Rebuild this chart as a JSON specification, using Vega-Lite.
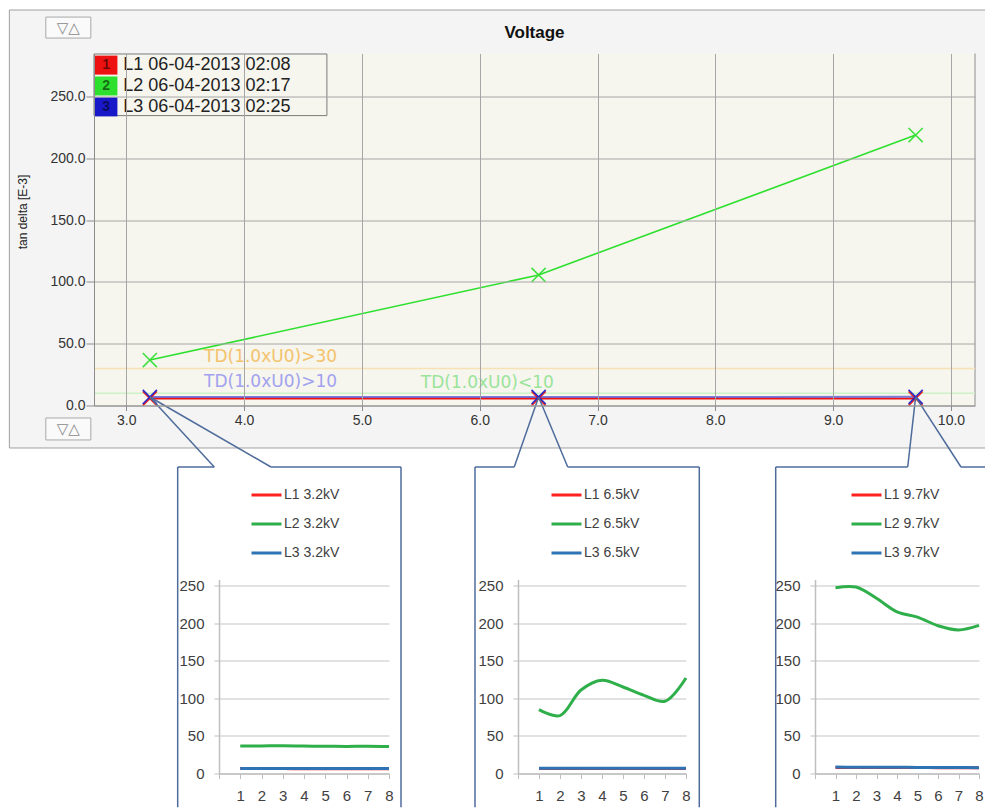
{
  "$schema": "https://vega.github.io/schema/vega-lite/v6.json",
  "padding": {"left": 8, "top": 9.5, "right": 0, "bottom": 0},
  "background": "white",
  "config": {"view": {"stroke": null}, "font": "Liberation Sans"},
  "datasets": {
    "sweep": [
      {"series": "L1", "kv": 3.2, "tan_delta": 5.6},
      {"series": "L1", "kv": 6.5, "tan_delta": 5.6},
      {"series": "L1", "kv": 9.7, "tan_delta": 5.6},
      {"series": "L2", "kv": 3.2, "tan_delta": 36.8},
      {"series": "L2", "kv": 6.5, "tan_delta": 105.7},
      {"series": "L2", "kv": 9.7, "tan_delta": 219.0},
      {"series": "L3", "kv": 3.2, "tan_delta": 6.9},
      {"series": "L3", "kv": 6.5, "tan_delta": 6.9},
      {"series": "L3", "kv": 9.7, "tan_delta": 7.0}
    ],
    "legend": [
      {"series": "L1", "key": "1", "entry": "L1 06-04-2013 02:08"},
      {"series": "L2", "key": "2", "entry": "L2 06-04-2013 02:17"},
      {"series": "L3", "key": "3", "entry": "L3 06-04-2013 02:25"}
    ],
    "thresholds": [
      {"limit": "TD(1.0xU0)>30", "level": 30},
      {"limit": "TD(1.0xU0)>10", "level": 10},
      {"limit": "TD(1.0xU0)<10", "level": 10}
    ],
    "insets": [
      {"kv": "3.2", "trace": "L1 3.2kV", "sample": 1, "value": 6.5},
      {"kv": "3.2", "trace": "L1 3.2kV", "sample": 2, "value": 6.5},
      {"kv": "3.2", "trace": "L1 3.2kV", "sample": 3, "value": 6.5},
      {"kv": "3.2", "trace": "L1 3.2kV", "sample": 4, "value": 6.4},
      {"kv": "3.2", "trace": "L1 3.2kV", "sample": 5, "value": 6.4},
      {"kv": "3.2", "trace": "L1 3.2kV", "sample": 6, "value": 6.4},
      {"kv": "3.2", "trace": "L1 3.2kV", "sample": 7, "value": 6.4},
      {"kv": "3.2", "trace": "L1 3.2kV", "sample": 8, "value": 6.4},
      {"kv": "3.2", "trace": "L2 3.2kV", "sample": 1, "value": 36.6},
      {"kv": "3.2", "trace": "L2 3.2kV", "sample": 2, "value": 36.7},
      {"kv": "3.2", "trace": "L2 3.2kV", "sample": 3, "value": 36.9},
      {"kv": "3.2", "trace": "L2 3.2kV", "sample": 4, "value": 36.5},
      {"kv": "3.2", "trace": "L2 3.2kV", "sample": 5, "value": 36.2},
      {"kv": "3.2", "trace": "L2 3.2kV", "sample": 6, "value": 36.0},
      {"kv": "3.2", "trace": "L2 3.2kV", "sample": 7, "value": 36.2},
      {"kv": "3.2", "trace": "L2 3.2kV", "sample": 8, "value": 35.8},
      {"kv": "3.2", "trace": "L3 3.2kV", "sample": 1, "value": 6.8},
      {"kv": "3.2", "trace": "L3 3.2kV", "sample": 2, "value": 6.8},
      {"kv": "3.2", "trace": "L3 3.2kV", "sample": 3, "value": 6.8},
      {"kv": "3.2", "trace": "L3 3.2kV", "sample": 4, "value": 6.7},
      {"kv": "3.2", "trace": "L3 3.2kV", "sample": 5, "value": 6.7},
      {"kv": "3.2", "trace": "L3 3.2kV", "sample": 6, "value": 6.7},
      {"kv": "3.2", "trace": "L3 3.2kV", "sample": 7, "value": 6.7},
      {"kv": "3.2", "trace": "L3 3.2kV", "sample": 8, "value": 6.7},
      {"kv": "6.5", "trace": "L1 6.5kV", "sample": 1, "value": 6.8},
      {"kv": "6.5", "trace": "L1 6.5kV", "sample": 2, "value": 6.8},
      {"kv": "6.5", "trace": "L1 6.5kV", "sample": 3, "value": 6.8},
      {"kv": "6.5", "trace": "L1 6.5kV", "sample": 4, "value": 6.8},
      {"kv": "6.5", "trace": "L1 6.5kV", "sample": 5, "value": 6.8},
      {"kv": "6.5", "trace": "L1 6.5kV", "sample": 6, "value": 6.8},
      {"kv": "6.5", "trace": "L1 6.5kV", "sample": 7, "value": 6.8},
      {"kv": "6.5", "trace": "L1 6.5kV", "sample": 8, "value": 6.8},
      {"kv": "6.5", "trace": "L2 6.5kV", "sample": 1, "value": 85},
      {"kv": "6.5", "trace": "L2 6.5kV", "sample": 2, "value": 77},
      {"kv": "6.5", "trace": "L2 6.5kV", "sample": 3, "value": 111},
      {"kv": "6.5", "trace": "L2 6.5kV", "sample": 4, "value": 124},
      {"kv": "6.5", "trace": "L2 6.5kV", "sample": 5, "value": 115},
      {"kv": "6.5", "trace": "L2 6.5kV", "sample": 6, "value": 104},
      {"kv": "6.5", "trace": "L2 6.5kV", "sample": 7, "value": 96},
      {"kv": "6.5", "trace": "L2 6.5kV", "sample": 8, "value": 127},
      {"kv": "6.5", "trace": "L3 6.5kV", "sample": 1, "value": 7.1},
      {"kv": "6.5", "trace": "L3 6.5kV", "sample": 2, "value": 7.0},
      {"kv": "6.5", "trace": "L3 6.5kV", "sample": 3, "value": 7.0},
      {"kv": "6.5", "trace": "L3 6.5kV", "sample": 4, "value": 7.0},
      {"kv": "6.5", "trace": "L3 6.5kV", "sample": 5, "value": 7.0},
      {"kv": "6.5", "trace": "L3 6.5kV", "sample": 6, "value": 7.0},
      {"kv": "6.5", "trace": "L3 6.5kV", "sample": 7, "value": 7.0},
      {"kv": "6.5", "trace": "L3 6.5kV", "sample": 8, "value": 7.0},
      {"kv": "9.7", "trace": "L1 9.7kV", "sample": 1, "value": 8.0},
      {"kv": "9.7", "trace": "L1 9.7kV", "sample": 2, "value": 8.0},
      {"kv": "9.7", "trace": "L1 9.7kV", "sample": 3, "value": 8.0},
      {"kv": "9.7", "trace": "L1 9.7kV", "sample": 4, "value": 7.9},
      {"kv": "9.7", "trace": "L1 9.7kV", "sample": 5, "value": 7.9},
      {"kv": "9.7", "trace": "L1 9.7kV", "sample": 6, "value": 7.8},
      {"kv": "9.7", "trace": "L1 9.7kV", "sample": 7, "value": 7.8},
      {"kv": "9.7", "trace": "L1 9.7kV", "sample": 8, "value": 7.7},
      {"kv": "9.7", "trace": "L2 9.7kV", "sample": 1, "value": 247},
      {"kv": "9.7", "trace": "L2 9.7kV", "sample": 2, "value": 248},
      {"kv": "9.7", "trace": "L2 9.7kV", "sample": 3, "value": 233},
      {"kv": "9.7", "trace": "L2 9.7kV", "sample": 4, "value": 215},
      {"kv": "9.7", "trace": "L2 9.7kV", "sample": 5, "value": 208},
      {"kv": "9.7", "trace": "L2 9.7kV", "sample": 6, "value": 196.5},
      {"kv": "9.7", "trace": "L2 9.7kV", "sample": 7, "value": 191},
      {"kv": "9.7", "trace": "L2 9.7kV", "sample": 8, "value": 197},
      {"kv": "9.7", "trace": "L3 9.7kV", "sample": 1, "value": 8.5},
      {"kv": "9.7", "trace": "L3 9.7kV", "sample": 2, "value": 8.4},
      {"kv": "9.7", "trace": "L3 9.7kV", "sample": 3, "value": 8.3},
      {"kv": "9.7", "trace": "L3 9.7kV", "sample": 4, "value": 8.2},
      {"kv": "9.7", "trace": "L3 9.7kV", "sample": 5, "value": 8.1},
      {"kv": "9.7", "trace": "L3 9.7kV", "sample": 6, "value": 8.0},
      {"kv": "9.7", "trace": "L3 9.7kV", "sample": 7, "value": 7.9},
      {"kv": "9.7", "trace": "L3 9.7kV", "sample": 8, "value": 7.8}
    ]
  },
  "bounds": "flush",
  "spacing": 174,
  "resolve": {"scale": {"color": "independent"}, "legend": {"color": "independent"}},
  "vconcat": [
    {
      "width": 881,
      "height": 352,
      "title": {"text": "Voltage", "fontSize": 17, "fontWeight": "bold", "color": "#111111", "anchor": "middle", "frame": "group", "baseline": "alphabetic", "offset": -45.4},
      "layer": [
        {"data": {"values": [{}]}, "mark": {"type": "rect", "fill": "#f4f4f4", "clip": false},
         "encoding": {"x": {"datum": 2.0075}, "x2": {"datum": 10.29}, "y": {"datum": 320.2}, "y2": {"datum": -34.4}}},
        {"data": {"values": [{}]}, "mark": {"type": "rule", "color": "#a0a0a0", "strokeWidth": 1, "clip": false},
         "encoding": {"x": {"datum": 2.0075}, "x2": {"datum": 10.29}, "y": {"datum": 320.2}}},
        {"data": {"values": [{}]}, "mark": {"type": "rule", "color": "#a0a0a0", "strokeWidth": 1, "clip": false},
         "encoding": {"x": {"datum": 2.0075}, "y": {"datum": 320.2}, "y2": {"datum": -34.4}}},
        {"data": {"values": [{}]}, "mark": {"type": "rule", "color": "#a0a0a0", "strokeWidth": 1, "clip": false},
         "encoding": {"x": {"datum": 2.0075}, "x2": {"datum": 10.29}, "y": {"datum": -34.4}}},
        {"data": {"values": [{}]}, "mark": {"type": "rect", "fill": "#f6f5ee"},
         "encoding": {"x": {"datum": 2.726}, "x2": {"datum": 10.204}, "y": {"datum": 0}, "y2": {"datum": 285}}},
        {"data": {"values": [{}]}, "mark": {"type": "rule", "color": "#8c8c8c", "strokeWidth": 1},
         "encoding": {"x": {"datum": 10.204}}},
        {"data": {"name": "thresholds"}, "transform": [{"filter": "datum.limit !== 'TD(1.0xU0)>10'"}],
         "mark": {"type": "rule", "strokeWidth": 1.5},
         "encoding": {
           "y": {"field": "level", "type": "quantitative"},
           "stroke": {"field": "limit", "type": "nominal", "scale": {"domain": ["TD(1.0xU0)>30", "TD(1.0xU0)<10"], "range": ["#f7e1b5", "#ccf2c6"]}, "legend": null}
         }},
        {"data": {"name": "thresholds"}, "transform": [{"filter": "datum.limit !== 'TD(1.0xU0)<10'"}],
         "mark": {"type": "text", "font": "DejaVu Sans", "fontSize": 17, "align": "left", "baseline": "middle", "dy": -11},
         "encoding": {
           "x": {"datum": 3.66},
           "y": {"field": "level", "type": "quantitative"},
           "text": {"field": "limit"},
           "fill": {"field": "limit", "type": "nominal", "scale": {"domain": ["TD(1.0xU0)>30", "TD(1.0xU0)>10", "TD(1.0xU0)<10"], "range": ["#f3c36c", "#a2a2ee", "#9ae49a"]}, "legend": null}
         }},
        {"data": {"name": "thresholds"}, "transform": [{"filter": "datum.limit === 'TD(1.0xU0)<10'"}],
         "mark": {"type": "text", "font": "DejaVu Sans", "fontSize": 17, "align": "left", "baseline": "middle", "dy": -10},
         "encoding": {
           "x": {"datum": 5.5},
           "y": {"field": "level", "type": "quantitative"},
           "text": {"field": "limit"},
           "fill": {"field": "limit", "type": "nominal", "scale": {"domain": ["TD(1.0xU0)>30", "TD(1.0xU0)>10", "TD(1.0xU0)<10"], "range": ["#f3c36c", "#a2a2ee", "#9ae49a"]}, "legend": null}
         }},
        {"data": {"name": "sweep"}, "transform": [{"filter": "datum.series !== 'L3'"}],
         "mark": {"type": "line", "strokeWidth": 1.6},
         "encoding": {
           "x": {"field": "kv", "type": "quantitative",
                 "scale": {"domain": [2.726, 10.204], "nice": false, "zero": false},
                 "axis": {"values": [3, 4, 5, 6, 7, 8, 9, 10], "tickCount": 8, "format": ".1f", "title": null, "grid": true, "gridColor": "#a6a6a6", "domainColor": "#8c8c8c", "tickColor": "#8c8c8c", "tickSize": 5, "labelFont": "Liberation Sans", "labelFontSize": 14, "labelColor": "#333333", "labelPadding": 3, "zindex": 1}},
           "y": {"field": "tan_delta", "type": "quantitative",
                 "scale": {"domain": [0, 285], "nice": false},
                 "axis": {"values": [0, 50, 100, 150, 200, 250], "tickCount": 6, "format": ".1f", "title": "tan delta [E-3]", "titleFont": "Liberation Sans", "titleFontSize": 12, "titleFontWeight": "normal", "titleColor": "#222222", "titlePadding": 20, "titleY": 158, "grid": true, "gridColor": "#a6a6a6", "domainColor": "#8c8c8c", "tickColor": "#8c8c8c", "tickSize": 8, "labelFont": "Liberation Sans", "labelFontSize": 14, "labelColor": "#333333", "labelPadding": 1, "zindex": 1}},
           "color": {"field": "series", "type": "nominal", "scale": {"domain": ["L1", "L2", "L3"], "range": ["#ee1111", "#2ee02e", "#1818c8"]}, "legend": null}
         }},
        {"data": {"name": "sweep"}, "transform": [{"filter": "datum.series === 'L3'"}],
         "mark": {"type": "line", "strokeWidth": 2, "opacity": 0.55},
         "encoding": {
           "x": {"field": "kv", "type": "quantitative"},
           "y": {"field": "tan_delta", "type": "quantitative"},
           "color": {"field": "series", "type": "nominal"}
         }},
        {"data": {"name": "sweep"},
         "mark": {"type": "point", "shape": "M-1,-1L1,1M-1,1L1,-1", "size": 200, "strokeWidth": 1.6, "filled": false, "opacity": 0.9},
         "encoding": {
           "x": {"field": "kv", "type": "quantitative"},
           "y": {"field": "tan_delta", "type": "quantitative"},
           "color": {"field": "series", "type": "nominal"}
         }},
        {"data": {"values": [{}]}, "mark": {"type": "rect", "filled": false, "stroke": "#7a7a7a", "strokeWidth": 1},
         "encoding": {"x": {"datum": 2.726}, "x2": {"datum": 4.703}, "y": {"datum": 284.6}, "y2": {"datum": 234.7}}},
        {"data": {"name": "legend"}, "transform": [{"filter": "datum.key === '1'"}],
         "encoding": {"y": {"datum": 275.6}},
         "layer": [
           {"mark": {"type": "point", "shape": "M-1.2,-1H1.2V1H-1.2Z", "size": 361, "filled": true, "opacity": 1},
            "encoding": {"x": {"datum": 2.828}, "color": {"field": "series", "type": "nominal"}}},
           {"mark": {"type": "text", "fontSize": 14, "fontWeight": "bold", "fill": "#000000", "fillOpacity": 0.55, "align": "center", "baseline": "middle"},
            "encoding": {"x": {"datum": 2.828}, "text": {"field": "key"}}},
           {"mark": {"type": "text", "fontSize": 18, "fill": "#222222", "align": "left", "baseline": "middle"},
            "encoding": {"x": {"datum": 2.975}, "text": {"field": "entry"}}}
         ]},
        {"data": {"name": "legend"}, "transform": [{"filter": "datum.key === '2'"}],
         "encoding": {"y": {"datum": 258.7}},
         "layer": [
           {"mark": {"type": "point", "shape": "M-1.2,-1H1.2V1H-1.2Z", "size": 361, "filled": true, "opacity": 1},
            "encoding": {"x": {"datum": 2.828}, "color": {"field": "series", "type": "nominal"}}},
           {"mark": {"type": "text", "fontSize": 14, "fontWeight": "bold", "fill": "#000000", "fillOpacity": 0.55, "align": "center", "baseline": "middle"},
            "encoding": {"x": {"datum": 2.828}, "text": {"field": "key"}}},
           {"mark": {"type": "text", "fontSize": 18, "fill": "#222222", "align": "left", "baseline": "middle"},
            "encoding": {"x": {"datum": 2.975}, "text": {"field": "entry"}}}
         ]},
        {"data": {"name": "legend"}, "transform": [{"filter": "datum.key === '3'"}],
         "encoding": {"y": {"datum": 241.8}},
         "layer": [
           {"mark": {"type": "point", "shape": "M-1.2,-1H1.2V1H-1.2Z", "size": 361, "filled": true, "opacity": 1},
            "encoding": {"x": {"datum": 2.828}, "color": {"field": "series", "type": "nominal"}}},
           {"mark": {"type": "text", "fontSize": 14, "fontWeight": "bold", "fill": "#000000", "fillOpacity": 0.55, "align": "center", "baseline": "middle"},
            "encoding": {"x": {"datum": 2.828}, "text": {"field": "key"}}},
           {"mark": {"type": "text", "fontSize": 18, "fill": "#222222", "align": "left", "baseline": "middle"},
            "encoding": {"x": {"datum": 2.975}, "text": {"field": "entry"}}}
         ]},
        {"data": {"values": [{}]}, "mark": {"type": "rule", "color": "#4e6b9b", "strokeWidth": 1.5, "clip": false},
         "encoding": {"x": {"datum": 3.2}, "y": {"datum": 6.9}, "x2": {"datum": 3.747}, "y2": {"datum": -49.8}}},
        {"data": {"values": [{}]}, "mark": {"type": "rule", "color": "#4e6b9b", "strokeWidth": 1.5, "clip": false},
         "encoding": {"x": {"datum": 3.2}, "y": {"datum": 6.9}, "x2": {"datum": 4.228}, "y2": {"datum": -49.8}}},
        {"data": {"values": [{}]}, "mark": {"type": "rule", "color": "#4e6b9b", "strokeWidth": 1.5, "clip": false},
         "encoding": {"x": {"datum": 6.5}, "y": {"datum": 6.9}, "x2": {"datum": 6.293}, "y2": {"datum": -49.8}}},
        {"data": {"values": [{}]}, "mark": {"type": "rule", "color": "#4e6b9b", "strokeWidth": 1.5, "clip": false},
         "encoding": {"x": {"datum": 6.5}, "y": {"datum": 6.9}, "x2": {"datum": 6.747}, "y2": {"datum": -49.8}}},
        {"data": {"values": [{}]}, "mark": {"type": "rule", "color": "#4e6b9b", "strokeWidth": 1.5, "clip": false},
         "encoding": {"x": {"datum": 9.7}, "y": {"datum": 7.0}, "x2": {"datum": 9.633}, "y2": {"datum": -49.8}}},
        {"data": {"values": [{}]}, "mark": {"type": "rule", "color": "#4e6b9b", "strokeWidth": 1.5, "clip": false},
         "encoding": {"x": {"datum": 9.7}, "y": {"datum": 7.0}, "x2": {"datum": 10.085}, "y2": {"datum": -49.8}}},
        {"data": {"values": [{}]}, "mark": {"type": "rect", "fill": "#fafafa", "stroke": "#a8a8a8", "strokeWidth": 1, "clip": false},
         "encoding": {"x": {"datum": 2.317}, "x2": {"datum": 2.699}, "y": {"datum": 314.5}, "y2": {"datum": 297.5}}},
        {"data": {"values": [{}]}, "mark": {"type": "text", "text": "▽△", "font": "DejaVu Sans", "fontSize": 15, "fill": "#8a8a8a", "align": "center", "baseline": "middle", "clip": false},
         "encoding": {"x": {"datum": 2.508}, "y": {"datum": 306}}},
        {"data": {"values": [{}]}, "mark": {"type": "rect", "fill": "#fafafa", "stroke": "#a8a8a8", "strokeWidth": 1, "clip": false},
         "encoding": {"x": {"datum": 2.317}, "x2": {"datum": 2.699}, "y": {"datum": -10.1}, "y2": {"datum": -27.9}}},
        {"data": {"values": [{}]}, "mark": {"type": "text", "text": "▽△", "font": "DejaVu Sans", "fontSize": 15, "fill": "#8a8a8a", "align": "center", "baseline": "middle", "clip": false},
         "encoding": {"x": {"datum": 2.508}, "y": {"datum": -19}}}
      ]
    },
    {
      "bounds": "flush",
      "spacing": 124,
      "resolve": {"scale": {"color": "independent"}, "legend": {"color": "independent"}},
      "hconcat": [
        {"width": 1, "height": 1, "data": {"values": [{}]}, "mark": {"type": "point", "opacity": 0}},
        {
          "bounds": "flush",
          "spacing": 129,
          "resolve": {"scale": {"color": "independent"}, "legend": {"color": "independent"}},
          "hconcat": [
            {
              "width": 170,
              "height": 194,
              "layer": [
                {"data": {"name": "insets"}, "transform": [{"filter": "datum.kv === '3.2'"}],
                 "mark": {"type": "line", "interpolate": "catmull-rom", "strokeWidth": 3},
                 "encoding": {
                   "x": {"field": "sample", "type": "quantitative", "scale": {"domain": [0, 8], "nice": false},
                         "axis": {"values": [0, 1, 2, 3, 4, 5, 6, 7, 8], "tickCount": 9, "labelExpr": "datum.value === 0 ? '' : datum.label", "labelOverlap": false, "labelFlush": false, "title": null, "grid": false, "domainColor": "#bfbfbf", "domainWidth": 1.5, "tickColor": "#bfbfbf", "tickSize": 5, "labelFontSize": 15, "labelColor": "#404040", "labelPadding": 10}},
                   "y": {"field": "value", "type": "quantitative", "scale": {"domain": [0, 258], "nice": false},
                         "axis": {"values": [0, 50, 100, 150, 200, 250], "tickCount": 6, "labelOverlap": false, "title": null, "grid": true, "gridColor": "#d9d9d9", "gridWidth": 1.5, "domainColor": "#bfbfbf", "domainWidth": 1.5, "tickColor": "#bfbfbf", "tickSize": 5, "labelFontSize": 15, "labelColor": "#404040", "labelPadding": 10}},
                   "color": {"field": "trace", "type": "nominal",
                             "scale": {"domain": ["L1 3.2kV", "L2 3.2kV", "L3 3.2kV"], "range": ["#ff2020", "#2eaf4a", "#2e74b5"]},
                             "legend": {"orient": "none", "legendX": 31, "legendY": -101, "title": null, "direction": "vertical", "symbolType": "stroke", "symbolSize": 900, "symbolStrokeWidth": 3, "labelFontSize": 14, "labelColor": "#404040", "labelOffset": 1, "rowPadding": 5, "padding": 0}}
                 }},
                {"data": {"values": [{}]}, "mark": {"type": "rule", "color": "#4e6b9b", "strokeWidth": 1.5, "clip": false},
                 "encoding": {"x": {"datum": -1.944}, "y": {"datum": 407.6}, "y2": {"datum": -44.8}}},
                {"data": {"values": [{}]}, "mark": {"type": "rule", "color": "#4e6b9b", "strokeWidth": 1.5, "clip": false},
                 "encoding": {"x": {"datum": 8.565}, "y": {"datum": 407.6}, "y2": {"datum": -44.8}}},
                {"data": {"values": [{}]}, "mark": {"type": "rule", "color": "#4e6b9b", "strokeWidth": 1.5, "clip": false},
                 "encoding": {"x": {"datum": -1.944}, "x2": {"datum": -0.221}, "y": {"datum": 407.6}}},
                {"data": {"values": [{}]}, "mark": {"type": "rule", "color": "#4e6b9b", "strokeWidth": 1.5, "clip": false},
                 "encoding": {"x": {"datum": 2.447}, "x2": {"datum": 8.565}, "y": {"datum": 407.6}}}
              ]
            },
            {
              "width": 168,
              "height": 194,
              "layer": [
                {"data": {"name": "insets"}, "transform": [{"filter": "datum.kv === '6.5'"}],
                 "mark": {"type": "line", "interpolate": "catmull-rom", "strokeWidth": 3},
                 "encoding": {
                   "x": {"field": "sample", "type": "quantitative", "scale": {"domain": [0, 8], "nice": false},
                         "axis": {"values": [0, 1, 2, 3, 4, 5, 6, 7, 8], "tickCount": 9, "labelExpr": "datum.value === 0 ? '' : datum.label", "labelOverlap": false, "labelFlush": false, "title": null, "grid": false, "domainColor": "#bfbfbf", "domainWidth": 1.5, "tickColor": "#bfbfbf", "tickSize": 5, "labelFontSize": 15, "labelColor": "#404040", "labelPadding": 10}},
                   "y": {"field": "value", "type": "quantitative", "scale": {"domain": [0, 258], "nice": false},
                         "axis": {"values": [0, 50, 100, 150, 200, 250], "tickCount": 6, "labelOverlap": false, "title": null, "grid": true, "gridColor": "#d9d9d9", "gridWidth": 1.5, "domainColor": "#bfbfbf", "domainWidth": 1.5, "tickColor": "#bfbfbf", "tickSize": 5, "labelFontSize": 15, "labelColor": "#404040", "labelPadding": 10}},
                   "color": {"field": "trace", "type": "nominal",
                             "scale": {"domain": ["L1 6.5kV", "L2 6.5kV", "L3 6.5kV"], "range": ["#ff2020", "#2eaf4a", "#2e74b5"]},
                             "legend": {"orient": "none", "legendX": 32, "legendY": -101, "title": null, "direction": "vertical", "symbolType": "stroke", "symbolSize": 900, "symbolStrokeWidth": 3, "labelFontSize": 14, "labelColor": "#404040", "labelOffset": 1, "rowPadding": 5, "padding": 0}}
                 }},
                {"data": {"values": [{}]}, "mark": {"type": "rule", "color": "#4e6b9b", "strokeWidth": 1.5, "clip": false},
                 "encoding": {"x": {"datum": -2.048}, "y": {"datum": 407.6}, "y2": {"datum": -44.8}}},
                {"data": {"values": [{}]}, "mark": {"type": "rule", "color": "#4e6b9b", "strokeWidth": 1.5, "clip": false},
                 "encoding": {"x": {"datum": 8.633}, "y": {"datum": 407.6}, "y2": {"datum": -44.8}}},
                {"data": {"values": [{}]}, "mark": {"type": "rule", "color": "#4e6b9b", "strokeWidth": 1.5, "clip": false},
                 "encoding": {"x": {"datum": -2.048}, "x2": {"datum": -0.176}, "y": {"datum": 407.6}}},
                {"data": {"values": [{}]}, "mark": {"type": "rule", "color": "#4e6b9b", "strokeWidth": 1.5, "clip": false},
                 "encoding": {"x": {"datum": 2.367}, "x2": {"datum": 8.633}, "y": {"datum": 407.6}}}
              ]
            },
            {
              "width": 164,
              "height": 194,
              "layer": [
                {"data": {"name": "insets"}, "transform": [{"filter": "datum.kv === '9.7'"}],
                 "mark": {"type": "line", "interpolate": "catmull-rom", "strokeWidth": 3},
                 "encoding": {
                   "x": {"field": "sample", "type": "quantitative", "scale": {"domain": [0, 8], "nice": false},
                         "axis": {"values": [0, 1, 2, 3, 4, 5, 6, 7, 8], "tickCount": 9, "labelExpr": "datum.value === 0 ? '' : datum.label", "labelOverlap": false, "labelFlush": false, "title": null, "grid": false, "domainColor": "#bfbfbf", "domainWidth": 1.5, "tickColor": "#bfbfbf", "tickSize": 5, "labelFontSize": 15, "labelColor": "#404040", "labelPadding": 10}},
                   "y": {"field": "value", "type": "quantitative", "scale": {"domain": [0, 258], "nice": false},
                         "axis": {"values": [0, 50, 100, 150, 200, 250], "tickCount": 6, "labelOverlap": false, "title": null, "grid": true, "gridColor": "#d9d9d9", "gridWidth": 1.5, "domainColor": "#bfbfbf", "domainWidth": 1.5, "tickColor": "#bfbfbf", "tickSize": 5, "labelFontSize": 15, "labelColor": "#404040", "labelPadding": 10}},
                   "color": {"field": "trace", "type": "nominal",
                             "scale": {"domain": ["L1 9.7kV", "L2 9.7kV", "L3 9.7kV"], "range": ["#ff2020", "#2eaf4a", "#2e74b5"]},
                             "legend": {"orient": "none", "legendX": 35, "legendY": -101, "title": null, "direction": "vertical", "symbolType": "stroke", "symbolSize": 900, "symbolStrokeWidth": 3, "labelFontSize": 14, "labelColor": "#404040", "labelOffset": 1, "rowPadding": 5, "padding": 0}}
                 }},
                {"data": {"values": [{}]}, "mark": {"type": "rule", "color": "#4e6b9b", "strokeWidth": 1.5, "clip": false},
                 "encoding": {"x": {"datum": -1.917}, "y": {"datum": 407.6}, "y2": {"datum": -44.8}}},
                {"data": {"values": [{}]}, "mark": {"type": "rule", "color": "#4e6b9b", "strokeWidth": 1.5, "clip": false},
                 "encoding": {"x": {"datum": -1.917}, "x2": {"datum": 4.522}, "y": {"datum": 407.6}}},
                {"data": {"values": [{}]}, "mark": {"type": "rule", "color": "#4e6b9b", "strokeWidth": 1.5, "clip": false},
                 "encoding": {"x": {"datum": 7.122}, "x2": {"datum": 8.3}, "y": {"datum": 407.6}}}
              ]
            }
          ]
        }
      ]
    }
  ]
}
